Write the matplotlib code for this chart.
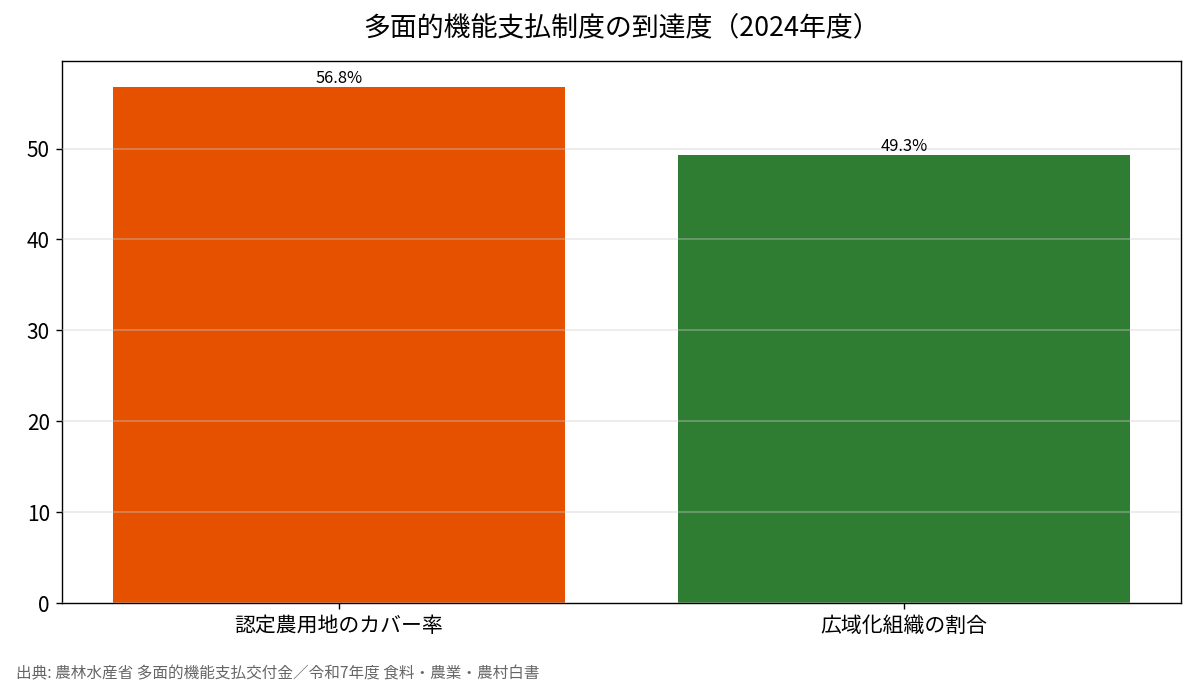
import matplotlib
matplotlib.use('Agg')
import matplotlib.pyplot as plt

plt.rcParams['font.family'] = ['Noto Sans CJK JP', 'DejaVu Sans']

# Data
categories = ['認定農用地のカバー率', '広域化組織の割合']
values = [56.8, 49.3]
colors = ['#E65100', '#2E7D32']

fig = plt.figure(figsize=(9.56, 5.584), dpi=125)
ax = fig.add_axes([0.0519, 0.1361, 0.9364, 0.7765])

bars = ax.bar(range(len(categories)), values, width=0.8, color=colors)
ax.set_xticks(range(len(categories)))
ax.set_xticklabels(categories, fontsize=12)
ax.tick_params(axis='y', labelsize=12)

ax.yaxis.grid(True, color='#cccccc', alpha=0.4, linewidth=1.0)
ax.set_axisbelow(False)

for b, v in zip(bars, values):
    ax.text(b.get_x() + b.get_width() / 2, v, f'{v}%',
            ha='center', va='bottom', fontsize=9.5)

ax.set_title('多面的機能支払制度の到達度（2024年度）', fontsize=15.5, pad=15)
fig.text(0.013, 0.028, '出典: 農林水産省 多面的機能支払交付金／令和7年度 食料・農業・農村白書',
         fontsize=9, color='#666666')

fig.savefig('out.png', dpi=125)
